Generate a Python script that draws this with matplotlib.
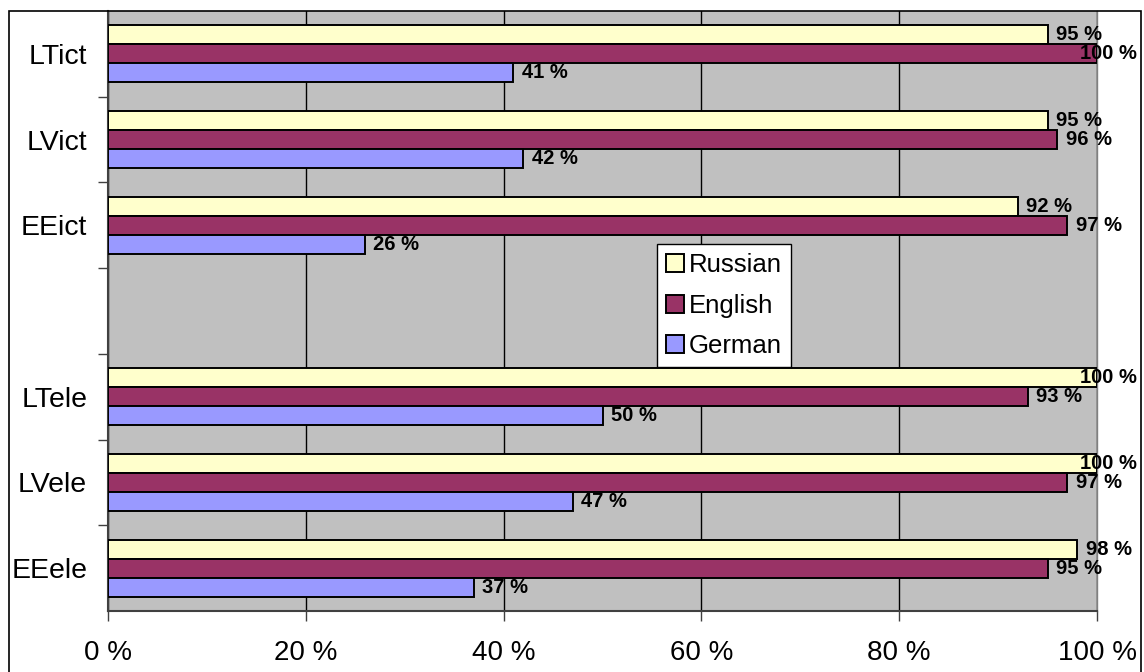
import matplotlib
matplotlib.use("Agg")
import matplotlib.pyplot as plt
from matplotlib.patches import Rectangle
import numpy as np

# Categories listed top to bottom; an empty slot separates the two blocks
categories = ["LTict", "LVict", "EEict", "", "LTele", "LVele", "EEele"]
series = ["Russian", "English", "German"]
russian = [95, 95, 92, None, 100, 100, 98]
english = [100, 96, 97, None, 93, 97, 95]
german = [41, 42, 26, None, 50, 47, 37]
xticks = [0, 20, 40, 60, 80, 100]
xtick_labels = ["0 %", "20 %", "40 %", "60 %", "80 %", "100 %"]

colors = ["#FFFFCC", "#993366", "#9999FF"]

plt.rcParams["font.family"] = ["Liberation Sans", "DejaVu Sans"]

fig = plt.figure(figsize=(11.44, 6.72), dpi=100)
W, H = 1144, 672
ax = fig.add_axes([108 / W, 1 - 611 / H, (1097 - 108) / W, (611 - 11) / H])
ax.set_facecolor("#C0C0C0")

n = len(categories)
pos = np.arange(n)
bar_h = 0.222
offsets = [-bar_h, 0.0, bar_h]
label_right_limit = (1137 - 108) / (1097 - 108)  # axes fraction

for vals, off, col, name in zip([russian, english, german], offsets, colors, series):
    ys = [p + off for p, v in zip(pos, vals) if v is not None]
    vs = [v for v in vals if v is not None]
    ax.barh(ys, vs, height=bar_h, color=col, edgecolor="black",
            linewidth=1.4, label=name, zorder=3)
    for y, v in zip(ys, vs):
        txt = f"{v} %"
        if v >= 99:
            ax.text(label_right_limit, y, txt, transform=ax.get_yaxis_transform(),
                    ha="right", va="center", fontsize=14.5, fontweight="bold",
                    zorder=5, clip_on=False)
        else:
            ax.annotate(txt, xy=(v, y), xytext=(6, 0), textcoords="offset points",
                        ha="left", va="center", fontsize=14.5, fontweight="bold",
                        zorder=5, annotation_clip=False)

ax.set_xlim(0, 100)
ax.set_ylim(n - 0.5, -0.5)

ax.set_xticks(xticks)
ax.set_xticklabels(xtick_labels, fontsize=20)
ax.tick_params(axis="x", direction="out", length=7, width=1, color="#404040", pad=14)

# Category boundaries as ticks, names centered in each slot
ax.set_yticks(np.arange(0.5, n - 0.5, 1.0))
ax.set_yticklabels([])
ax.tick_params(axis="y", which="major", direction="out", length=7, width=1, color="#404040")
ax.set_yticks(pos, minor=True)
ax.set_yticklabels(categories, minor=True, fontsize=20.5)
ax.tick_params(axis="y", which="minor", length=0, pad=15)

ax.xaxis.grid(True, color="black", linewidth=1, zorder=1)
ax.set_axisbelow(True)

ax.spines["top"].set_visible(False)
ax.spines["right"].set_color("#808080")
ax.spines["right"].set_linewidth(1)
ax.spines["left"].set_color("#404040")
ax.spines["left"].set_linewidth(1.5)
ax.spines["bottom"].set_color("#404040")
ax.spines["bottom"].set_linewidth(1.5)

leg = ax.legend(loc="upper left", bbox_to_anchor=((657 - 108) / 989, 1 - (244 - 11) / 600),
                fontsize=18.5, frameon=True, fancybox=False, framealpha=1,
                borderpad=0.35, handlelength=0.7, handleheight=0.7,
                handletextpad=0.2, labelspacing=0.65, borderaxespad=0)
leg.get_frame().set_edgecolor("black")
leg.get_frame().set_linewidth(1)
leg.get_frame().set_facecolor("white")
leg.set_zorder(6)

# Outer chart frame
fig.patches.append(Rectangle((9 / W, -0.05), (1141 - 9) / W, 1.05 - 11 / H,
                             transform=fig.transFigure, fill=False,
                             edgecolor="black", linewidth=1.2))

fig.savefig("out.png", dpi=100, facecolor="white")
